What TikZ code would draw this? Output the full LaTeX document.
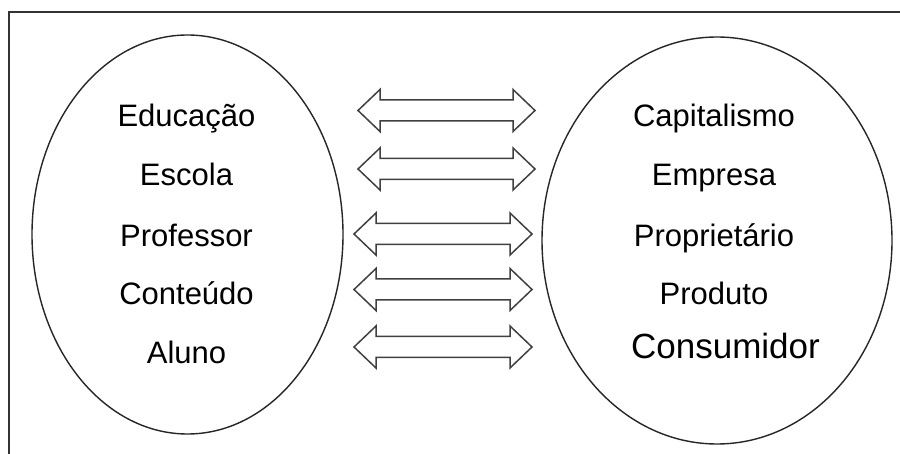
\documentclass[tikz,border=0pt]{standalone}
\usepackage{fontspec}
\setmainfont{Liberation Sans}
\begin{document}
\begin{tikzpicture}[x=1pt,y=-1pt,
  frameline/.style={draw=black!80,line width=2pt},
  oval/.style={draw=black!85,line width=1.4pt},
  arrowline/.style={draw=black!75,line width=1.5pt,line join=miter},
  term/.style={anchor=base,inner sep=0pt,font=\fontsize{31}{37}\selectfont},
  bigterm/.style={anchor=base,inner sep=0pt,font=\fontsize{35}{42}\selectfont},
  pics/linkarrow/.style={code={
    \draw[arrowline] (0,0) -- (22,-21) -- (22,-10.5) -- (#1-22,-10.5)
      -- (#1-22,-21) -- (#1,0) -- (#1-22,21) -- (#1-22,10.5)
      -- (22,10.5) -- (22,21) -- cycle;
  }}]
\useasboundingbox (0,0) rectangle (900,454);
\clip (0,0) rectangle (900,454);
\fill[white] (0,0) rectangle (900,454);

% outer frame (runs off the right and bottom edges)
\draw[frameline] (9,470) -- (9,12) -- (920,12);

% the two ovals
\draw[oval] (187.5,234.5) ellipse [x radius=155.5, y radius=199.5];
\draw[oval] (717,240.5) ellipse [x radius=175, y radius=203.5];

% left column
\node[term] (edu)  at (186.5,127) {Educação};
\node[term] (esc)  at (186.5,186) {Escola};
\node[term] (prof) at (186.5,247) {Professor};
\node[term] (cont) at (186.5,305) {Conteúdo};
\node[term] (alu)  at (186.5,363) {Aluno};

% right column
\node[term] (cap)  at (714,127) {Capitalismo};
\node[term] (emp)  at (714,186) {Empresa};
\node[term] (prop) at (714,247) {Proprietário};
\node[term] (prod) at (714,305) {Produto};
\node[bigterm] (cons) at (725.5,359) {Consumidor};

% two-way arrows between the columns
\pic at (358,110.5) {linkarrow=177};
\pic at (358,169) {linkarrow=177};
\pic at (354,234) {linkarrow=178};
\pic at (354,289.5) {linkarrow=178};
\pic at (354,347) {linkarrow=178};
\end{tikzpicture}
\end{document}
